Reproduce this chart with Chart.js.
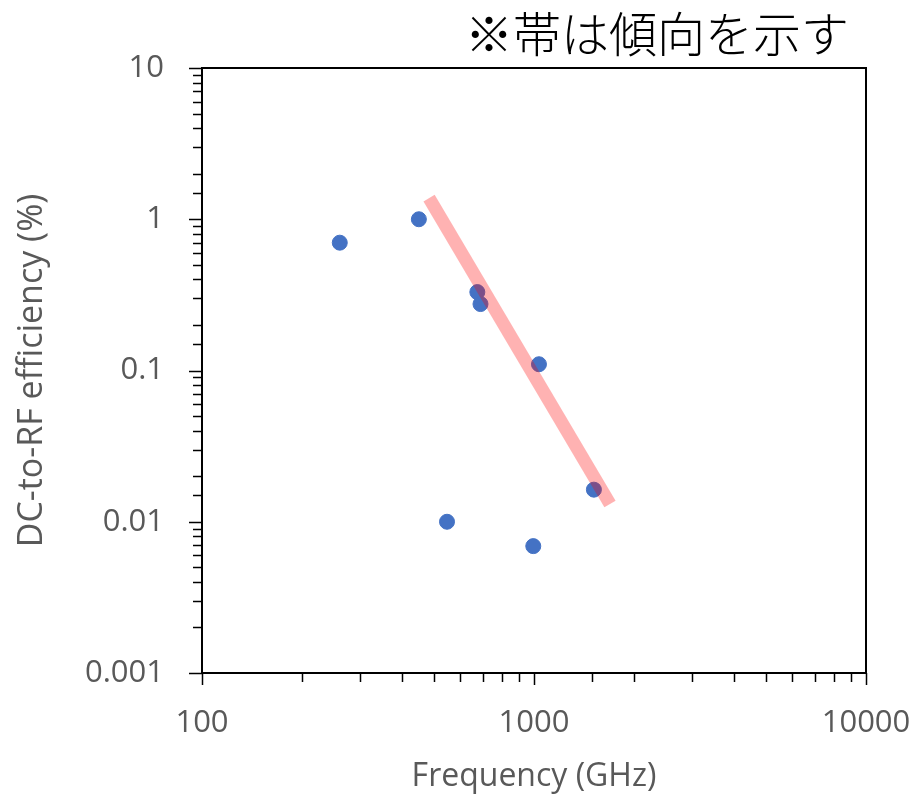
<!DOCTYPE html>
<html>
<head>
<meta charset="utf-8">
<script src="https://cdn.jsdelivr.net/npm/chart.js@4.4.0/dist/chart.umd.min.js"></script>
<style>
  html, body { margin: 0; padding: 0; background: #fff; }
  #wrap { width: 919px; height: 796px; }
</style>
</head>
<body>
<div id="wrap"><canvas id="chart" width="919" height="796"></canvas></div>
<script>
// data
const freqGHz = [260, 450, 675, 690, 1035, 1515, 547, 995];
const efficiency = [0.7, 1.0, 0.33, 0.275, 0.11, 0.0163, 0.01, 0.0069];
const trendFreq = [483, 1694];
const trendEff = [1.38, 0.0131];
const noteText = '※帯は傾向を示す';

const textGray = '#595959';
const isDecade = v => Math.abs(Math.log10(v) - Math.round(Math.log10(v))) < 1e-6;
const decadeLabel = v => {
  if (!isDecade(v)) return '';
  const p = Math.round(Math.log10(v));
  return p >= 0 ? String(Math.pow(10, p)) : (Math.pow(10, p)).toFixed(-p);
};

// box and tick marks drawn from the scales
const frame = {
  id: 'frame',
  afterDraw(chart) {
    const { ctx, chartArea: a, scales } = chart;
    ctx.save();
    ctx.strokeStyle = '#000';
    ctx.lineWidth = 2;
    ctx.strokeRect(a.left, a.top, a.right - a.left, a.bottom - a.top);
    ctx.lineWidth = 1.5;
    ctx.beginPath();
    scales.y.ticks.forEach(t => {
      const y = Math.round(scales.y.getPixelForValue(t.value)) + 0.5;
      const len = isDecade(t.value) ? 13 : 9;
      ctx.moveTo(a.left - len, y);
      ctx.lineTo(a.left, y);
    });
    scales.x.ticks.forEach(t => {
      const x = Math.round(scales.x.getPixelForValue(t.value)) + 0.5;
      const len = isDecade(t.value) ? 12 : 9;
      ctx.moveTo(x, a.bottom);
      ctx.lineTo(x, a.bottom + len);
    });
    ctx.stroke();
    // note at top right
    ctx.fillStyle = '#000';
    ctx.font = '300 48px "Noto Sans CJK JP"';
    ctx.textAlign = 'right';
    ctx.textBaseline = 'middle';
    ctx.fillText(noteText, 849, 34);
    ctx.restore();
  }
};

new Chart(document.getElementById('chart'), {
  type: 'scatter',
  data: {
    datasets: [
      {
        type: 'line',
        label: 'trend',
        data: trendFreq.map((x, i) => ({ x, y: trendEff[i] })),
        borderColor: 'rgba(255, 0, 0, 0.3)',
        borderWidth: 13,
        borderCapStyle: 'butt',
        pointRadius: 0,
        fill: false,
        order: 0
      },
      {
        label: 'devices',
        data: freqGHz.map((x, i) => ({ x, y: efficiency[i] })),
        backgroundColor: '#4472C4',
        borderColor: '#4472C4',
        pointRadius: 7.5,
        pointHoverRadius: 7.5,
        order: 1
      }
    ]
  },
  options: {
    responsive: false,
    animation: false,
    layout: { padding: { top: 68, right: 53, left: 0, bottom: 0 } },
    plugins: { legend: { display: false }, tooltip: { enabled: false } },
    scales: {
      x: {
        type: 'logarithmic',
        min: 100,
        max: 10000,
        grid: { display: false },
        border: { display: false },
        afterFit: s => { s.height = 123; s.paddingLeft = 0; s.paddingRight = 0; },
        ticks: {
          autoSkip: false,
          maxRotation: 0,
          padding: 24,
          color: textGray,
          font: { family: '"Open Sans"', size: 31 },
          callback: v => decadeLabel(v)
        },
        title: {
          display: true,
          text: 'Frequency (GHz)',
          color: textGray,
          font: { family: '"Open Sans"', size: 32 },
          padding: { top: 0, bottom: 0 }
        }
      },
      y: {
        type: 'logarithmic',
        min: 0.001,
        max: 10,
        grid: { display: false },
        border: { display: false },
        afterFit: s => { s.width = 202; s.paddingTop = 0; s.paddingBottom = 0; },
        ticks: {
          autoSkip: false,
          padding: 30,
          color: textGray,
          font: { family: '"Open Sans"', size: 31 },
          callback: v => decadeLabel(v)
        },
        title: {
          display: true,
          text: 'DC-to-RF efficiency (%)',
          color: textGray,
          font: { family: '"Open Sans"', size: 34 },
          padding: { top: 12, bottom: 0 }
        }
      }
    }
  },
  plugins: [frame]
});
</script>
</body>
</html>
